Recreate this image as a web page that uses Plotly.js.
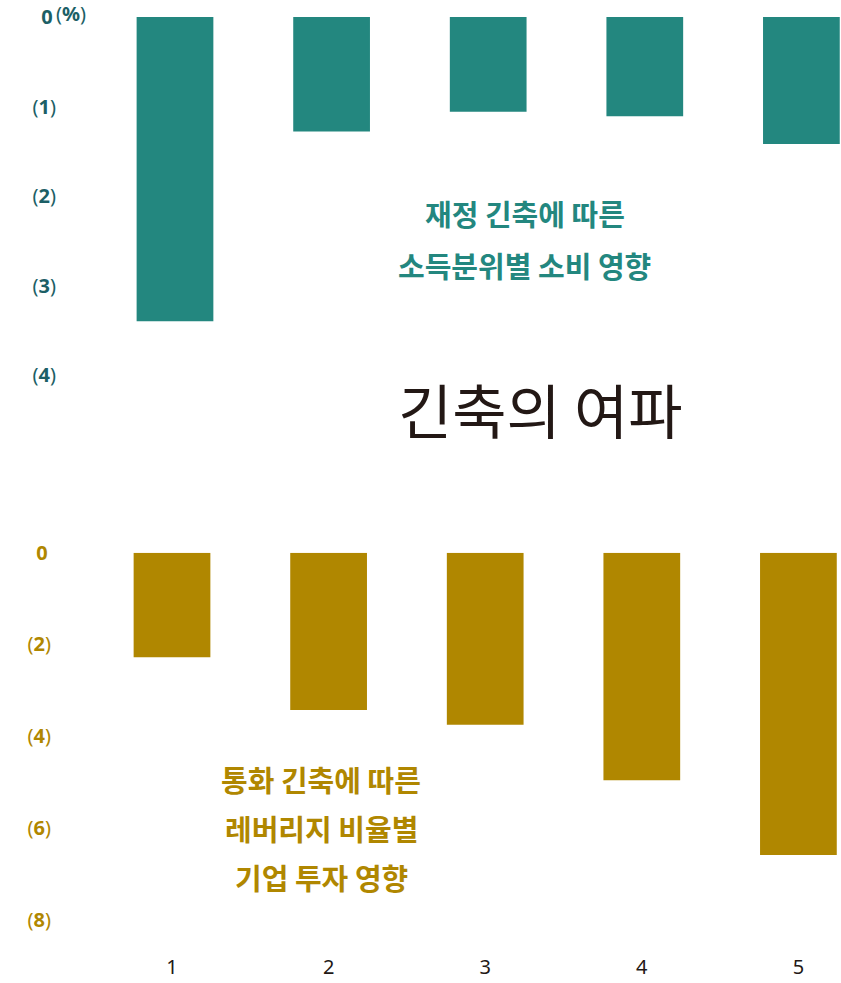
<!DOCTYPE html>
<html>
<head>
<meta charset="utf-8">
<script src="https://cdn.plot.ly/plotly-3.0.1.min.js"></script>
<style>
  html, body { margin: 0; padding: 0; background: #fff; }
  #chart { width: 841px; height: 983px; }
</style>
</head>
<body>
<div id="chart"></div>
<script>
// 소득분위 / 레버리지 구간 (1~5)
const groups = [1, 2, 3, 4, 5];
// 재정 긴축: 소득분위별 소비 영향 (%)
const fiscalValues = [-3.40, -1.28, -1.06, -1.11, -1.42];
// 통화 긴축: 레버리지 비율별 기업 투자 영향 (%)
const monetaryValues = [-2.28, -3.43, -3.75, -4.96, -6.59];

const fiscalTicks = [0, -1, -2, -3, -4];
const fiscalTickText = ['<b>0</b>\u2009', '(<b>1</b>)', '(<b>2</b>)', '(<b>3</b>)', '(<b>4</b>)'];
const monetaryTicks = [0, -2, -4, -6, -8];
const monetaryTickText = ['<b>0</b>\u2009', '(<b>2</b>)', '(<b>4</b>)', '(<b>6</b>)', '(<b>8</b>)'];

const teal = '#23877f';
const gold = '#b08700';
const tealText = '#1c5f66';

// 픽셀 -> paper 좌표 (plot 영역: x 60~841, y 17~929)
const W = 841, H = 983, L = 60, T = 17, B = 54;
const px = x => (x - L) / (W - L);
const py = y => (H - B - y) / (H - T - B);

let traces = [
    {
        type: 'bar',
        x: groups,
        y: fiscalValues,
        width: 0.49,
        marker: { color: teal },
        xaxis: 'x',
        yaxis: 'y',
        hoverinfo: 'y'
    },
    {
        type: 'bar',
        x: groups,
        y: monetaryValues,
        width: 0.49,
        marker: { color: gold },
        xaxis: 'x2',
        yaxis: 'y2',
        hoverinfo: 'y'
    }
];

const font = '"Noto Sans", "Noto Sans CJK KR", sans-serif';
const kr = '"Noto Sans CJK KR", sans-serif';

// 텍스트 주석 (pixel 위치 기준)
function label(text, x, y, size, color, family) {
    return {
        text: text, x: px(x), y: py(y), xref: 'paper', yref: 'paper',
        xanchor: 'center', yanchor: 'middle', showarrow: false,
        font: { size: size, color: color, family: family || kr }
    };
}

let layout = {
    width: W,
    height: H,
    margin: { l: L, r: 0, t: T, b: B },
    paper_bgcolor: '#fff',
    plot_bgcolor: '#fff',
    showlegend: false,
    font: { family: font },
    xaxis: {
        range: [0.2657, 5.2529],
        anchor: 'y',
        showticklabels: false,
        showgrid: false,
        zeroline: false,
        showline: false
    },
    yaxis: {
        domain: [py(17 + 4.2 * 89.5), 1],
        range: [-4.2, 0],
        tickvals: fiscalTicks,
        ticktext: fiscalTickText,
        tickfont: { size: 20, color: tealText, family: font },
        ticklabelstandoff: 3,
        showgrid: false,
        zeroline: false,
        showline: false
    },
    xaxis2: {
        range: [0.2848, 5.2720],
        anchor: 'y2',
        tickvals: groups,
        ticktext: groups.map(String),
        tickfont: { size: 20, color: '#231815', family: font },
        ticklabelstandoff: 24,
        showgrid: false,
        zeroline: false,
        showline: false
    },
    yaxis2: {
        domain: [0, py(552.7)],
        range: [-8.2, 0],
        tickvals: monetaryTicks,
        ticktext: monetaryTickText,
        tickfont: { size: 20, color: gold, family: font },
        ticklabelstandoff: 8,
        showgrid: false,
        zeroline: false,
        showline: false
    },
    annotations: [
        label('(<b>%</b>)', 71, 14, 20, tealText, font),
        label('<b>재정 긴축에 따른</b>', 525, 213, 29, teal),
        label('<b>소득분위별 소비 영향</b>', 524, 265, 29, teal),
        label('긴축의 여파', 540, 408, 59, '#231815'),
        label('<b>통화 긴축에 따른</b>', 321, 779, 29, gold),
        label('<b>레버리지 비율별</b>', 321, 828, 29, gold),
        label('<b>기업 투자 영향</b>', 321, 877, 29, gold)
    ]
};

Plotly.newPlot('chart', traces, layout, { displayModeBar: false, staticPlot: true });
</script>
</body>
</html>
